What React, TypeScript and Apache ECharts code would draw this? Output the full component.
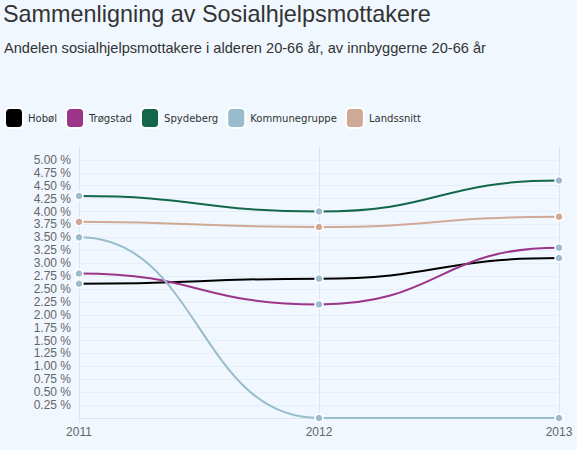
import React, { useEffect, useRef } from "react";
import * as echarts from "echarts";

const years = ["2011", "2012", "2013"];
const hobol = [2.6, 2.7, 3.1];
const trogstad = [2.8, 2.2, 3.3];
const spydeberg = [4.3, 4.0, 4.6];
const kommunegruppe = [3.5, 0, 0];
const landssnitt = [3.8, 3.7, 3.9];
const seriesNames = ["Hobøl", "Trøgstad", "Spydeberg", "Kommunegruppe", "Landssnitt"];
const seriesValues = [hobol, trogstad, spydeberg, kommunegruppe, landssnitt];
const titleText = "Sammenligning av Sosialhjelpsmottakere";
const subtitleText = "Andelen sosialhjelpsmottakere i alderen 20-66 år, av innbyggerne 20-66 år";
const yMin = 0;
const yMax = 5.25;
const yInterval = 0.25;

const lineColors = ["#000000", "#9b3589", "#13684a", "#99bccd", "#cfa995"];
const markerColors = ["#9bbccc", "#9bbccc", "#9bbccc", "#9bbccc", "#cfa995"];

export default function App() {
  const ref = useRef<HTMLDivElement>(null);
  useEffect(() => {
    if (!ref.current) return;
    const chart = echarts.init(ref.current, null, { renderer: "svg" });
    const curveSeries = seriesValues.map((vals, si) => ({
      type: "custom",
      coordinateSystem: "cartesian2d",
      silent: true,
      clip: false,
      z: 2,
      data: vals.slice(0, -1).map((v, i) => [i, v]),
      encode: { x: 0, y: 1 },
      renderItem: (params: any, api: any) => {
        const i = api.value(0) as number;
        const a = api.coord([i, vals[i]]);
        const b = api.coord([i + 1, vals[i + 1]]);
        const mx = (a[0] + b[0]) / 2;
        return {
          type: "bezierCurve",
          shape: { x1: a[0], y1: a[1], x2: b[0], y2: b[1], cpx1: mx, cpy1: a[1], cpx2: mx, cpy2: b[1] },
          style: { stroke: lineColors[si], lineWidth: 2, fill: null },
        };
      },
    }));
    const pointSeries = seriesValues.map((vals, si) => ({
      type: "line",
      name: seriesNames[si],
      data: vals,
      z: 3,
      symbol: "circle",
      symbolSize: 8,
      showSymbol: true,
      lineStyle: { width: 0, opacity: 0 },
      itemStyle: { color: markerColors[si], borderColor: "#ffffff", borderWidth: 1.5 },
    }));
    chart.setOption({
      animation: false,
      backgroundColor: "#f0f7fe",
      title: [
        {
          text: titleText,
          left: 3,
          top: 2,
          padding: 0,
          textStyle: { fontSize: 23.4, fontWeight: "normal", color: "#333333", fontFamily: "Liberation Sans" },
        },
        {
          text: subtitleText,
          left: 4,
          top: 40,
          padding: 0,
          textStyle: { fontSize: 14.6, fontWeight: "normal", color: "#333333", fontFamily: "Liberation Sans" },
        },
      ],
      legend: {
        left: 4,
        top: 107,
        padding: 0,
        icon: "roundRect",
        itemWidth: 18,
        itemHeight: 20,
        itemGap: 8,
        textStyle: { fontSize: 11.2, color: "#333333", fontFamily: "DejaVu Sans Condensed" },
        data: seriesNames.map((n, i) => ({ name: n, itemStyle: { color: lineColors[i] } })),
      },
      grid: { left: 79, right: 18, top: 147, bottom: 32, containLabel: false },
      xAxis: {
        type: "category",
        data: years,
        boundaryGap: false,
        axisLine: { show: true, lineStyle: { color: "#dde4ec", width: 1 } },
        axisTick: { show: true, length: 5, alignWithLabel: true, lineStyle: { color: "#dde4ec" } },
        splitLine: { show: true, lineStyle: { color: "#dde4ec", width: 1 } },
        axisLabel: { color: "#666666", fontSize: 12, fontFamily: "Liberation Sans", margin: 8 },
      },
      yAxis: {
        type: "value",
        min: yMin,
        max: yMax,
        interval: yInterval,
        axisLine: { show: false },
        axisTick: { show: false },
        splitLine: { show: true, showMaxLine: false, showMinLine: false, lineStyle: { color: "#e6eef6", width: 1 } },
        axisLabel: {
          color: "#666666",
          fontSize: 12,
          fontFamily: "Liberation Sans",
          margin: 8,
          showMaxLabel: false,
          showMinLabel: false,
          formatter: (v: number) => v.toFixed(2) + " %",
        },
      },
      series: [...curveSeries, ...pointSeries],
    });
    return () => chart.dispose();
  }, []);
  return (
    <div
      ref={ref}
      style={{ position: "fixed", left: 0, top: 0, width: 577, height: 450 }}
    />
  );
}
